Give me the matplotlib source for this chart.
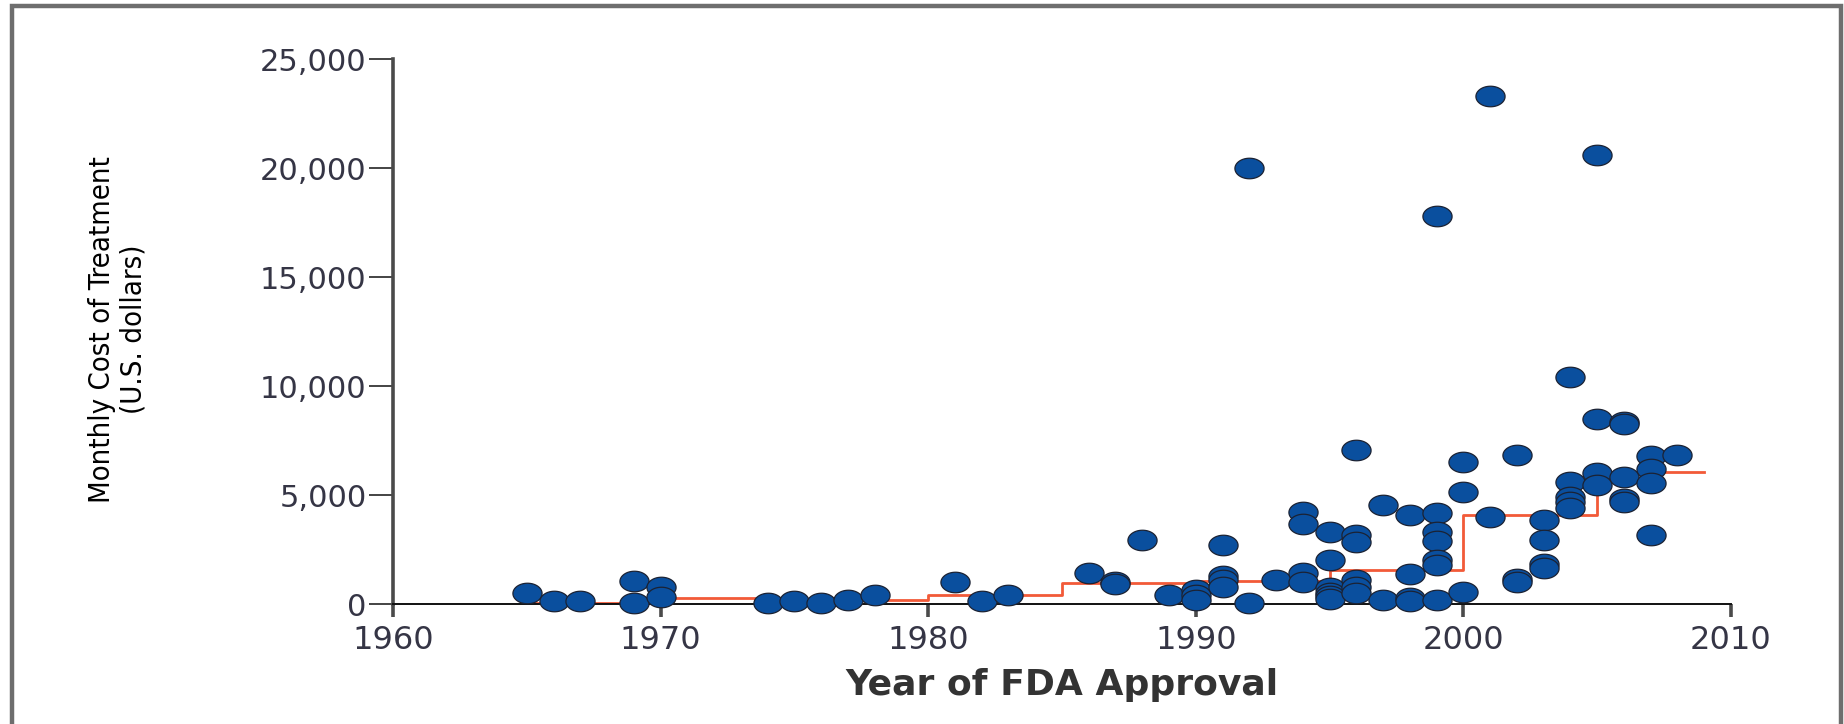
import matplotlib
matplotlib.use("Agg")
import matplotlib.pyplot as plt
from matplotlib import font_manager
from matplotlib.path import Path
from matplotlib.patches import Rectangle
from matplotlib.ticker import FuncFormatter
import numpy as np

# approval year and monthly cost (USD)
years = [1965, 1966, 1967, 1969, 1969, 1970, 1970, 1974, 1975, 1976, 1977, 1978,
         1981, 1982, 1983, 1986, 1987, 1987, 1988, 1989,
         1990, 1990, 1990, 1991, 1991, 1991, 1991, 1992, 1992, 1993,
         1994, 1994, 1994, 1994,
         1995, 1995, 1995, 1995, 1995, 1995,
         1996, 1996, 1996, 1996, 1996, 1996,
         1997, 1997, 1998, 1998, 1998, 1998,
         1999, 1999, 1999, 1999, 1999, 1999, 1999,
         2000, 2000, 2000, 2001, 2001, 2002, 2002, 2002,
         2003, 2003, 2003, 2003,
         2004, 2004, 2004, 2004, 2004,
         2005, 2005, 2005, 2005,
         2006, 2006, 2006, 2006, 2006,
         2007, 2007, 2007, 2007, 2008]
costs = [520, 130, 130, 1050, 60, 760, 340, 40, 150, 60, 180, 420,
         1000, 130, 410, 1420, 1000, 920, 2920, 400,
         650, 420, 200, 2700, 1300, 1100, 800, 20000, 60, 1120,
         4220, 3680, 1420, 1020,
         3320, 2030, 720, 520, 350, 220,
         7050, 3150, 2860, 1100, 800, 490,
         4520, 180, 4080, 1390, 260, 150,
         17800, 4170, 3310, 2890, 2010, 1790, 180,
         6520, 5150, 560, 23300, 4000, 6820, 1140, 1020,
         3850, 2960, 1820, 1640,
         10400, 5600, 4900, 4680, 4390,
         20600, 8500, 6030, 5450,
         8350, 8240, 5840, 4800, 4700,
         6800, 6210, 5530, 3160, 6820]

# step line (5-year periods)
step_x = [1965, 1970, 1975, 1980, 1985, 1990, 1995, 2000, 2005, 2009]
step_y = [60, 290, 180, 400, 960, 1050, 1560, 4100, 6050, 6050]

xticks = [1960, 1970, 1980, 1990, 2000, 2010]
yticks = [0, 5000, 10000, 15000, 20000, 25000]


# a narrow font for the y label, if one is installed
def narrow_font():
    fonts = font_manager.fontManager.ttflist
    for f in fonts:
        if f.name == "Liberation Sans Narrow" and f.weight in (400, "normal", "regular") \
                and f.style == "normal":
            return font_manager.FontProperties(fname=f.fname)
    for f in fonts:
        nm = (f.name + " " + str(f.stretch)).lower()
        if ("narrow" in nm or "condensed" in nm) and f.style == "normal" \
                and "bold" not in f.fname.lower() and "mono" not in nm:
            return font_manager.FontProperties(fname=f.fname)
    return font_manager.FontProperties(family="DejaVu Sans")


fig = plt.figure(figsize=(18.44, 7.24), dpi=100)
ax = fig.add_axes([0.2131, 0.1657, 0.7256, 0.7528])

# flattened circle marker (the original is stretched sideways)
t = np.linspace(0, 2 * np.pi, 60)
oval = Path(np.column_stack([1.42 * np.cos(t), np.sin(t)]))

ax.step(step_x, step_y, where="post", color="#f25a38", lw=2.0, zorder=2)
ax.plot(years, costs, ls="none", marker=oval, markersize=21,
        markerfacecolor="#0a4f9e", markeredgecolor="#1b2233", markeredgewidth=0.9,
        clip_on=False, zorder=3)

ax.set_xlim(1960, 2010)
ax.set_ylim(0, 25000)
ax.set_xticks(xticks)
ax.set_yticks(yticks)
ax.yaxis.set_major_formatter(FuncFormatter(lambda v, p: f"{int(v):,}"))

for s in ["top", "right"]:
    ax.spines[s].set_visible(False)
ax.spines["left"].set_linewidth(2.6)
ax.spines["left"].set_color("#4a4a4a")
ax.spines["bottom"].set_linewidth(1.4)
ax.spines["bottom"].set_color("#111111")

ax.tick_params(axis="y", length=17, width=1.1, color="#111111", pad=2,
               labelsize=22, labelcolor="#353545")
ax.tick_params(axis="x", length=9, width=2.6, color="#4a4a4a", pad=6,
               labelsize=23, labelcolor="#353545")

ax.set_xlabel("Year of FDA Approval", fontsize=26, fontweight="bold",
              color="#333333", labelpad=9)

fp = narrow_font()
fp.set_size(21)
fig.text(0.064, 0.545, "Monthly Cost of Treatment\n(U.S. dollars)", rotation=90,
         ha="center", va="center", fontproperties=fp, linespacing=1.15,
         color="black")

# grey frame round the panel
fig.patches.append(Rectangle((12 / 1844, -0.1), 1829 / 1844, 1.1 - 6 / 724,
                             transform=fig.transFigure, fill=False,
                             edgecolor="#6e6e6e", lw=3.2))

fig.savefig("out.png", dpi=100)
